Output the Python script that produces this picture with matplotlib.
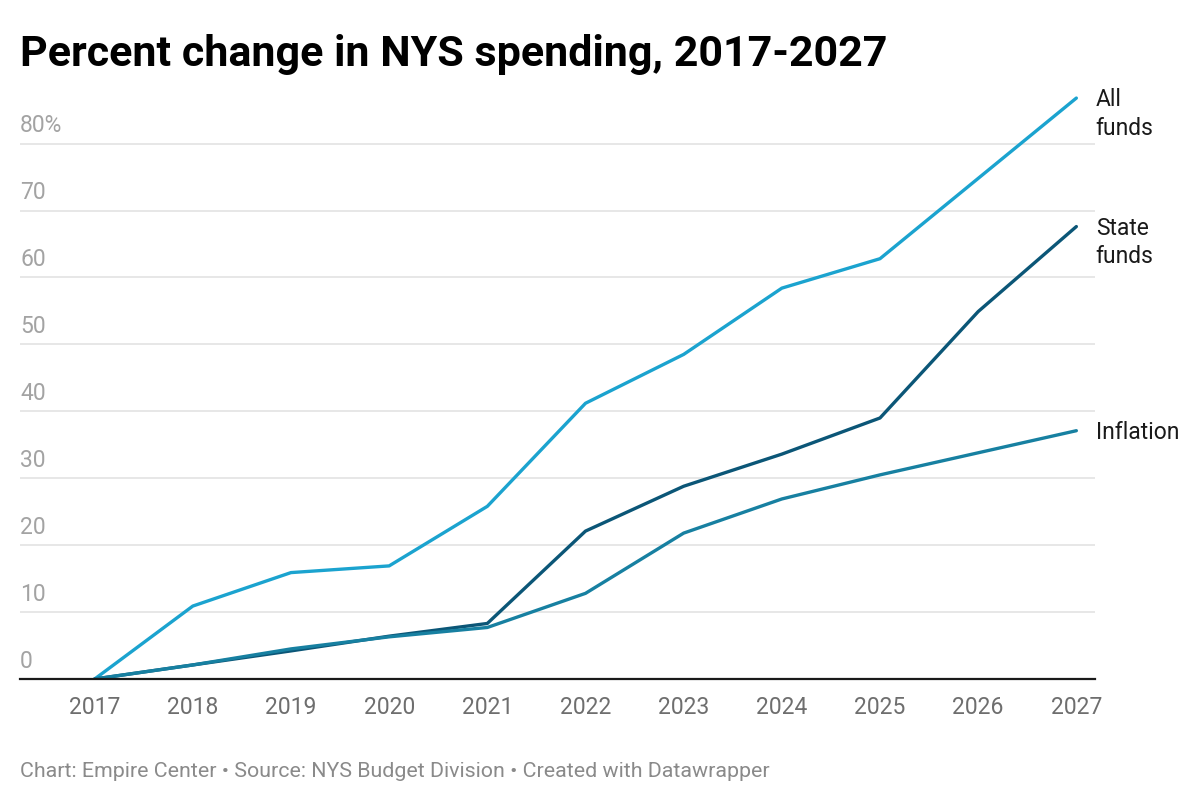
import matplotlib
matplotlib.use("Agg")
import matplotlib.pyplot as plt
import matplotlib.transforms as mtransforms

plt.rcParams['font.family'] = ['Roboto', 'DejaVu Sans']

years = [2017, 2018, 2019, 2020, 2021, 2022, 2023, 2024, 2025, 2026, 2027]
all_funds = [0, 10.9, 15.9, 16.9, 25.8, 41.2, 48.5, 58.4, 62.8, 74.8, 86.8]
state_funds = [0, 2.1, 4.2, 6.4, 8.3, 22.1, 28.8, 33.6, 39.0, 54.9, 67.6]
inflation = [0, 2.1, 4.5, 6.3, 7.7, 12.8, 21.8, 26.9, 30.5, 33.8, 37.1]

y_ticks = [0, 10, 20, 30, 40, 50, 60, 70, 80]
y_labels = ['0', '10', '20', '30', '40', '50', '60', '70', '80%']

series = [
    ('All\nfunds', all_funds, '#1ba3cf'),
    ('State\nfunds', state_funds, '#0b5677'),
    ('Inflation', inflation, '#1780a1'),
]

fig = plt.figure(figsize=(12, 8.01), dpi=100)
ax = fig.add_axes([0.0167, 0.1523, 0.8958, 0.7353])

for label, vals, color in series:
    ax.plot(years, vals, color=color, lw=2.4, solid_capstyle='round',
            solid_joinstyle='round', zorder=3)
    n_lines = label.count('\n')
    ax.annotate(label, xy=(years[-1], vals[-1]), xytext=(14, -10 * n_lines - 1.5),
                textcoords='offset points', ha='left', va='center',
                fontsize=16.5, color='#1a1a1a', linespacing=1.3,
                annotation_clip=False)

ax.set_xlim(2016.24, 2027.19)
ax.set_ylim(0, 88)

ax.set_yticks(y_ticks)
ax.set_yticklabels([])
ax.tick_params(axis='y', length=0)
ax.grid(axis='y', color='#e3e3e3', lw=1.2, zorder=0)

trans = mtransforms.blended_transform_factory(ax.transAxes, ax.transData)
for t, lab in zip(y_ticks, y_labels):
    ax.annotate(lab, xy=(0, t), xycoords=trans, xytext=(0, 4.5),
                textcoords='offset points', ha='left', va='bottom',
                fontsize=16.5, color='#a3a3a3')

ax.set_xticks(years)
ax.set_xticklabels([str(y) for y in years], fontsize=16.5, color='#6e6e6e')
ax.tick_params(axis='x', length=0, pad=12.5)

for side in ['top', 'right', 'left']:
    ax.spines[side].set_visible(False)
ax.spines['bottom'].set_color('#1a1a1a')
ax.spines['bottom'].set_linewidth(1.6)
ax.spines['bottom'].set_zorder(4)

fig.text(20 / 1200, 1 - 66 / 801, 'Percent change in NYS spending, 2017-2027',
         fontsize=31, fontweight='bold', color='#000000', ha='left', va='baseline')
fig.text(20 / 1200, 1 - 777 / 801,
         'Chart: Empire Center \u2022 Source: NYS Budget Division \u2022 Created with Datawrapper',
         fontsize=15.4, color='#8a8a8a', ha='left', va='baseline')

fig.savefig('out.png', dpi=100)
